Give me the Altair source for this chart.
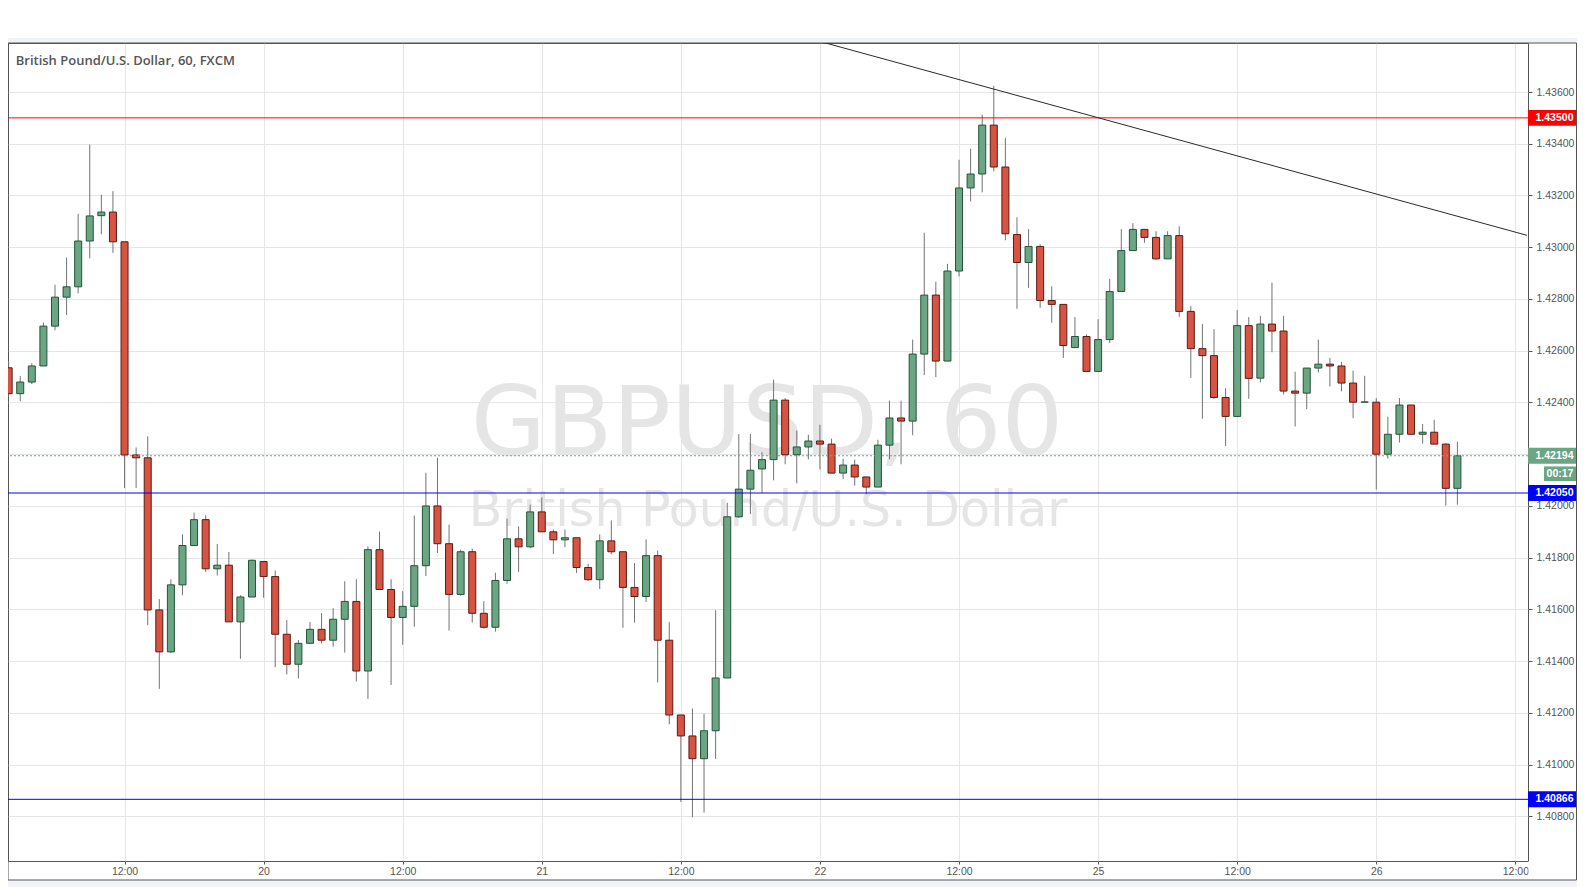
import altair as alt
import pandas as pd

# ---------------- data ----------------
opens = [1.42534, 1.42434, 1.42479, 1.42541, 1.42695, 1.42807, 1.42847, 1.43024, 1.43122, 1.43136,
         1.43021, 1.42197, 1.42186, 1.41598, 1.41436, 1.41695, 1.41847, 1.41947, 1.41757, 1.41771,
         1.41552, 1.41648, 1.41785, 1.41727, 1.41504, 1.41388, 1.41469, 1.41523, 1.41481, 1.41562,
         1.41631, 1.41362, 1.41831, 1.41677, 1.41569, 1.41612, 1.41769, 1.42000, 1.41854, 1.41658,
         1.41823, 1.41585, 1.41531, 1.41712, 1.41873, 1.41842, 1.41977, 1.41900, 1.41869, 1.41877,
         1.41762, 1.41715, 1.41865, 1.41823, 1.41685, 1.41650, 1.41808, 1.41481, 1.41192, 1.41111,
         1.41023, 1.41131, 1.41335, 1.41958, 1.42065, 1.42143, 1.42179, 1.42409, 1.42198, 1.42228,
         1.42251, 1.42239, 1.42127, 1.42158, 1.42112, 1.42073, 1.42235, 1.42340, 1.42328, 1.42587,
         1.42815, 1.42560, 1.42908, 1.43229, 1.43283, 1.43472, 1.43310, 1.43049, 1.42941, 1.43003,
         1.42794, 1.42779, 1.42612, 1.42655, 1.42520, 1.42643, 1.42829, 1.42987, 1.43069, 1.43038,
         1.42955, 1.43045, 1.42752, 1.42608, 1.42581, 1.42419, 1.42346, 1.42697, 1.42494, 1.42703,
         1.42676, 1.42444, 1.42436, 1.42533, 1.42548, 1.42541, 1.42475, 1.42401, 1.42401, 1.42200,
         1.42277, 1.42390, 1.42277, 1.42285, 1.42239, 1.42068]
highs = [1.42560, 1.42503, 1.42552, 1.42709, 1.42855, 1.42960, 1.43129, 1.43397, 1.43203, 1.43217,
         1.43021, 1.42226, 1.42269, 1.41640, 1.41716, 1.41890, 1.41974, 1.41964, 1.41853, 1.41822,
         1.41655, 1.41793, 1.41785, 1.41751, 1.41559, 1.41482, 1.41551, 1.41586, 1.41605, 1.41709,
         1.41717, 1.41844, 1.41901, 1.41717, 1.41671, 1.41963, 1.42128, 1.42186, 1.41928, 1.41831,
         1.41835, 1.41632, 1.41742, 1.41951, 1.41921, 1.42005, 1.42033, 1.41909, 1.41909, 1.41877,
         1.41776, 1.41890, 1.41944, 1.41823, 1.41779, 1.41871, 1.41828, 1.41551, 1.41192, 1.41217,
         1.41197, 1.41597, 1.42012, 1.42278, 1.42278, 1.42208, 1.42488, 1.42417, 1.42291, 1.42275,
         1.42314, 1.42260, 1.42182, 1.42179, 1.42112, 1.42256, 1.42407, 1.42407, 1.42643, 1.43056,
         1.42867, 1.42936, 1.43338, 1.43381, 1.43512, 1.43624, 1.43423, 1.43116, 1.43070, 1.43012,
         1.42849, 1.42779, 1.42730, 1.42663, 1.42722, 1.42877, 1.43070, 1.43093, 1.43069, 1.43062,
         1.43062, 1.43081, 1.42772, 1.42703, 1.42683, 1.42455, 1.42757, 1.42730, 1.42735, 1.42863,
         1.42735, 1.42519, 1.42533, 1.42643, 1.42572, 1.42557, 1.42523, 1.42503, 1.42417, 1.42345,
         1.42417, 1.42390, 1.42317, 1.42333, 1.42243, 1.42248]
lows = [1.42420, 1.42405, 1.42471, 1.42541, 1.42679, 1.42738, 1.42822, 1.42957, 1.43050, 1.42978,
        1.42069, 1.42069, 1.41540, 1.41293, 1.41431, 1.41655, 1.41847, 1.41745, 1.41731, 1.41552,
        1.41409, 1.41648, 1.41645, 1.41377, 1.41349, 1.41333, 1.41469, 1.41468, 1.41456, 1.41433,
        1.41322, 1.41254, 1.41677, 1.41308, 1.41464, 1.41533, 1.41729, 1.41818, 1.41518, 1.41653,
        1.41549, 1.41526, 1.41514, 1.41699, 1.41745, 1.41837, 1.41900, 1.41814, 1.41841, 1.41741,
        1.41710, 1.41679, 1.41814, 1.41529, 1.41549, 1.41629, 1.41318, 1.41156, 1.40856, 1.40797,
        1.40815, 1.41022, 1.41335, 1.41954, 1.41969, 1.42050, 1.42099, 1.42161, 1.42087, 1.42180,
        1.42141, 1.42127, 1.42104, 1.42079, 1.42045, 1.42073, 1.42180, 1.42161, 1.42273, 1.42506,
        1.42498, 1.42560, 1.42887, 1.43177, 1.43212, 1.43293, 1.43027, 1.42762, 1.42843, 1.42766,
        1.42708, 1.42572, 1.42612, 1.42520, 1.42520, 1.42630, 1.42829, 1.42987, 1.43017, 1.42951,
        1.42955, 1.42731, 1.42495, 1.42337, 1.42414, 1.42232, 1.42346, 1.42414, 1.42477, 1.42594,
        1.42431, 1.42307, 1.42374, 1.42516, 1.42462, 1.42443, 1.42339, 1.42401, 1.42063, 1.42183,
        1.42245, 1.42277, 1.42241, 1.42239, 1.42001, 1.42005]
closes = [1.42434, 1.42479, 1.42541, 1.42695, 1.42807, 1.42847, 1.43024, 1.43121, 1.43136, 1.43021,
          1.42197, 1.42186, 1.41598, 1.41436, 1.41695, 1.41847, 1.41947, 1.41757, 1.41771, 1.41552,
          1.41648, 1.41790, 1.41727, 1.41504, 1.41388, 1.41469, 1.41523, 1.41481, 1.41562, 1.41631,
          1.41362, 1.41831, 1.41677, 1.41569, 1.41612, 1.41769, 1.42000, 1.41854, 1.41658, 1.41823,
          1.41585, 1.41531, 1.41712, 1.41873, 1.41842, 1.41977, 1.41900, 1.41869, 1.41877, 1.41762,
          1.41715, 1.41865, 1.41823, 1.41685, 1.41650, 1.41808, 1.41481, 1.41192, 1.41111, 1.41023,
          1.41131, 1.41335, 1.41958, 1.42065, 1.42138, 1.42179, 1.42409, 1.42198, 1.42228, 1.42251,
          1.42239, 1.42127, 1.42158, 1.42112, 1.42073, 1.42235, 1.42340, 1.42328, 1.42587, 1.42815,
          1.42560, 1.42908, 1.43229, 1.43283, 1.43472, 1.43310, 1.43052, 1.42941, 1.43003, 1.42794,
          1.42779, 1.42620, 1.42655, 1.42520, 1.42643, 1.42829, 1.42987, 1.43069, 1.43038, 1.42955,
          1.43045, 1.42752, 1.42608, 1.42581, 1.42419, 1.42346, 1.42697, 1.42493, 1.42703, 1.42676,
          1.42444, 1.42436, 1.42533, 1.42548, 1.42541, 1.42475, 1.42401, 1.42402, 1.42200, 1.42277,
          1.42390, 1.42277, 1.42285, 1.42239, 1.42068, 1.42194]

x_tick_idx = [10, 22, 34, 46, 58, 70, 82, 94, 106, 118, 130]
x_tick_labels = ["12:00", "20", "12:00", "21", "12:00", "22", "12:00", "25", "12:00", "26", "12:00"]
price_ticks = [1.408, 1.410, 1.412, 1.414, 1.416, 1.418, 1.420, 1.422,
               1.424, 1.426, 1.428, 1.430, 1.432, 1.434, 1.436]

resistance_prices = [1.43500]
support_prices = [1.42050, 1.40866]
last_price = [1.42194]
timer_text = ["00:17"]
trend_idx = [68, 131]
trend_price = [1.43820, 1.43046]

title_text = ["British Pound/U.S. Dollar, 60, FXCM"]
wm_big = ["GBPUSD, 60"]
wm_small = ["British Pound/U.S. Dollar"]

# ---------------- layout / style ----------------
W, H = 1520, 818
GRAY_TEXT = "#555555"
GRID = "#e6e6e6"
FRAME = "#555555"
BG_STRIP = "#f0f3f7"
UP_FILL, UP_LINE = "#6ba583", "#225437"
DN_FILL, DN_LINE = "#d75442", "#5b1a13"
RED, BLUE = "#ff0000", "#0000ff"
PX = (1.437894 - 1.406276) / H          # price units per pixel

candles = pd.DataFrame({"idx": list(range(len(opens))), "o": opens, "h": highs,
                        "l": lows, "c": closes})
up = candles[candles["c"] >= candles["o"]]
dn = candles[candles["c"] < candles["o"]]

xscale = alt.Scale(domain=[0.377, 130.66], nice=False, zero=False)
yscale = alt.Scale(domain=[1.406276, 1.437894], nice=False, zero=False)

label_expr = ("[" + ",".join("'%s'" % s for s in x_tick_labels) + "][indexof(["
              + ",".join(str(v) for v in x_tick_idx) + "], datum.value)]")

xaxis = alt.Axis(values=x_tick_idx, labelExpr=label_expr, grid=True, gridColor=GRID,
                 domain=False, ticks=True, tickSize=3, tickColor=FRAME,
                 labelColor=GRAY_TEXT, labelFont="Liberation Sans", labelFontSize=10.5,
                 labelPadding=2, labelFlush=False, labelOverlap=False, labelBound=False,
                 title=None)
yaxis = alt.Axis(orient="right", values=price_ticks, format=".5f", grid=True, gridColor=GRID,
                 domain=False, tickSize=4, tickColor=FRAME, labelColor=GRAY_TEXT,
                 labelFont="Liberation Sans", labelFontSize=10.5, labelPadding=4,
                 labelOverlap=False, labelFlush=False, title=None)


def X(field):
    return alt.X(field, type="quantitative", scale=xscale, axis=xaxis)


def Y(field):
    return alt.Y(field, type="quantitative", scale=yscale, axis=yaxis)


one = pd.DataFrame({"k": [0]})

strip_top = alt.Chart(one).mark_rect(color=BG_STRIP, clip=False).encode(
    x=alt.value(0), x2=alt.value(W + 49), y=alt.value(-5), y2=alt.value(0))
strip_bottom = alt.Chart(one).mark_rect(color=BG_STRIP, clip=False).encode(
    x=alt.value(0), x2=alt.value(W + 49), y=alt.value(H + 19.5), y2=alt.value(H + 26))
corner = alt.Chart(one).mark_rect(color="white", clip=False).encode(
    x=alt.value(W + 0.5), x2=alt.value(W + 48), y=alt.value(H + 0.5), y2=alt.value(H + 18.5))
frame = alt.Chart(one).mark_rect(fill="transparent", stroke=FRAME, strokeWidth=1, clip=False).encode(
    x=alt.value(0), x2=alt.value(W + 48.5), y=alt.value(0), y2=alt.value(H + 19))

wm1 = alt.Chart(pd.DataFrame({"t": wm_big})).mark_text(
    font="DejaVu Sans", fontSize=97, color="#e5e5e5", align="center", baseline="alphabetic"
).encode(text="t:N", x=alt.value(759), y=alt.value(411.5))
wm2 = alt.Chart(pd.DataFrame({"t": wm_small})).mark_text(
    font="DejaVu Sans", fontSize=49, color="#e5e5e5", align="center", baseline="alphabetic"
).encode(text="t:N", x=alt.value(760), y=alt.value(483.3))

title = alt.Chart(pd.DataFrame({"t": title_text})).mark_text(
    font="Open Sans", fontSize=13, fontWeight=600, color=GRAY_TEXT, align="left",
    baseline="middle"
).encode(text="t:N", x=alt.value(7.7), y=alt.value(17.5))

wicks = alt.Chart(candles).mark_rule(color="#737375", strokeWidth=1, clip=True).encode(
    x=X("idx"), y=Y("l"), y2="h")
bodies_up = alt.Chart(up).mark_bar(width=7, strokeWidth=1, fill=UP_FILL, stroke=UP_LINE,
                                   clip=True).encode(x=X("idx"), y=Y("o"), y2="c")
bodies_dn = alt.Chart(dn).mark_bar(width=7, strokeWidth=1, fill=DN_FILL, stroke=DN_LINE,
                                   clip=True).encode(x=X("idx"), y=Y("o"), y2="c")

res_df = pd.DataFrame({"p": resistance_prices})
sup_df = pd.DataFrame({"p": support_prices})
last_df = pd.DataFrame({"p": last_price, "t": timer_text})

res_line = alt.Chart(res_df).mark_rule(strokeWidth=1, color=RED, clip=True).encode(y=Y("p"))
sup_line = alt.Chart(sup_df).mark_rule(strokeWidth=1, color=BLUE, clip=True).encode(y=Y("p"))
last_line = alt.Chart(last_df).mark_rule(
    strokeWidth=1, color=UP_FILL, strokeDash=[2, 2], clip=True).encode(y=Y("p"))

trend = alt.Chart(pd.DataFrame({"i": trend_idx, "p": trend_price})).mark_line(
    color="#2a2a2a", strokeWidth=1, clip=True).encode(x=X("i"), y=Y("p"))


def price_box(df, color):
    half = 8 * PX
    rect = alt.Chart(df).transform_calculate(
        top="datum.p + %f" % half, bot="datum.p - %f" % half
    ).mark_rect(clip=False, color=color).encode(
        x=alt.value(W), x2=alt.value(W + 48), y=Y("top"), y2="bot")
    txt = alt.Chart(df).transform_calculate(
        lab="format(datum.p, '.5f')"
    ).mark_text(font="Liberation Sans", fontSize=10.5, fontWeight="bold", color="white",
                align="center", baseline="middle", clip=False).encode(
        x=alt.value(W + 26.5), y=Y("p"), text="lab:N")
    return rect + txt


timer_shift = 18 * PX
timer_half = 7.3 * PX
timer_box = alt.Chart(last_df).transform_calculate(
    top="datum.p - %f + %f" % (timer_shift, timer_half),
    bot="datum.p - %f - %f" % (timer_shift, timer_half)
).mark_rect(clip=False, color=UP_FILL).encode(
    x=alt.value(W + 16), x2=alt.value(W + 48), y=Y("top"), y2="bot")
timer_label = alt.Chart(last_df).transform_calculate(
    tp="datum.p - %f" % timer_shift
).mark_text(font="Liberation Sans", fontSize=10.5, fontWeight="bold", color="white",
            align="center", baseline="middle", clip=False).encode(
    x=alt.value(W + 32), y=Y("tp"), text="t:N")

chart = alt.layer(
    strip_top, strip_bottom, corner, frame,
    wm1, wm2, title,
    wicks, bodies_up, bodies_dn, res_line, sup_line, last_line, trend,
    price_box(res_df, RED), price_box(last_df, UP_FILL), price_box(sup_df, BLUE),
    timer_box, timer_label
).properties(
    width=W, height=H,
    autosize=alt.AutoSizeParams(type="none"),
    padding={"left": 0, "top": 35, "right": 49, "bottom": 26},
    background="white"
).configure_view(stroke=FRAME, strokeWidth=1, fill="white")

chart.save("out.html", embed_options={"renderer": "svg", "actions": False})
